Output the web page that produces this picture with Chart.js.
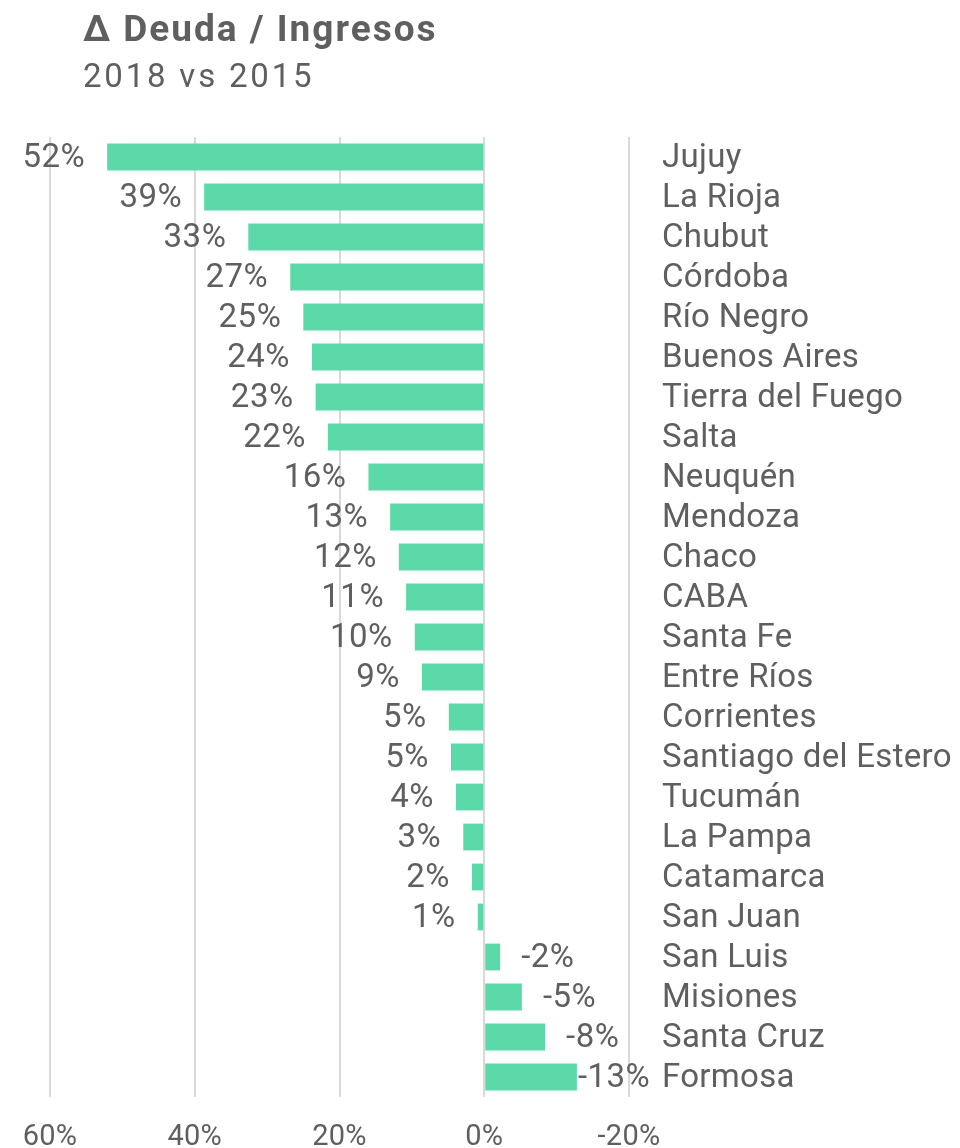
<!DOCTYPE html>
<html><head><meta charset="utf-8">
<script src="https://cdn.jsdelivr.net/npm/chart.js@4"></script>
<style>html,body{margin:0;padding:0;background:#fff}#wrap{width:960px;height:1148px}</style>
</head><body><div id="wrap"><canvas id="c" width="960" height="1148"></canvas></div>
<script>
const titleText = 'Δ Deuda / Ingresos';
const subtitleText = '2018 vs 2015';
const provinces = ['Jujuy','La Rioja','Chubut','Córdoba','Río Negro','Buenos Aires','Tierra del Fuego','Salta','Neuquén','Mendoza','Chaco','CABA','Santa Fe','Entre Ríos','Corrientes','Santiago del Estero','Tucumán','La Pampa','Catamarca','San Juan','San Luis','Misiones','Santa Cruz','Formosa'];
const values = [52.1,38.7,32.6,26.8,25.0,23.8,23.3,21.6,16.0,13.0,11.8,10.8,9.6,8.6,4.9,4.6,3.9,2.9,1.7,0.9,-2.2,-5.2,-8.4,-12.8];
const valueLabels = ['52%','39%','33%','27%','25%','24%','23%','22%','16%','13%','12%','11%','10%','9%','5%','5%','4%','3%','2%','1%','-2%','-5%','-8%','-13%'];
const tickValues = [60,40,20,0,-20];

const TEXT = '#5f5f5f';
const FONT = 'Roboto, "Noto Sans", sans-serif';

const spacingPlugin = {
  id: 'spacing',
  beforeDraw(chart) {
    try { chart.ctx.letterSpacing = '0.3px'; } catch(e) {}
  },
  afterDraw(chart) {
    try { chart.ctx.letterSpacing = '0px'; } catch(e) {}
  }
};

const titlePlugin = {
  id: 'titles',
  afterDraw(chart) {
    const ctx = chart.ctx;
    ctx.save();
    ctx.fillStyle = TEXT;
    ctx.textAlign = 'left';
    ctx.textBaseline = 'alphabetic';
    try { ctx.letterSpacing = '2px'; } catch(e) {}
    ctx.font = 'bold 37px ' + FONT;
    ctx.fillText(titleText, 83, 41);
    try { ctx.letterSpacing = '2.8px'; } catch(e) {}
    ctx.font = '33px ' + FONT;
    ctx.fillText(subtitleText, 83, 87);
    try { ctx.letterSpacing = '0px'; } catch(e) {}
    ctx.restore();
  }
};

const valueLabelPlugin = {
  id: 'valueLabels',
  afterDatasetsDraw(chart) {
    const ctx = chart.ctx;
    const meta = chart.getDatasetMeta(0);
    const limit = chart.chartArea.right + 19;
    ctx.save();
    ctx.fillStyle = TEXT;
    try { ctx.letterSpacing = '0.5px'; } catch(e) {}
    ctx.font = '33px ' + FONT;
    ctx.textBaseline = 'middle';
    meta.data.forEach((bar, i) => {
      const txt = valueLabels[i];
      const w = ctx.measureText(txt).width;
      if (values[i] >= 0) {
        ctx.textAlign = 'right';
        ctx.fillText(txt, bar.x - 22, bar.y + 2);
      } else {
        ctx.textAlign = 'left';
        let x = bar.x + 21;
        if (x + w > limit) x = Math.max(bar.x + 1, limit - w);
        ctx.fillText(txt, x, bar.y + 2);
      }
    });
    try { ctx.letterSpacing = '0.3px'; } catch(e) {}
    ctx.restore();
  }
};

new Chart(document.getElementById('c'), {
  type: 'bar',
  data: {
    labels: provinces,
    datasets: [{
      data: values,
      backgroundColor: '#5cd9a8',
      borderWidth: 0,
      barPercentage: 0.67,
      categoryPercentage: 1.0
    }]
  },
  options: {
    indexAxis: 'y',
    responsive: false,
    animation: false,
    layout: { padding: { left: 50, top: 137, right: 0, bottom: 0 } },
    plugins: { legend: { display: false }, tooltip: { enabled: false } },
    scales: {
      x: {
        type: 'linear',
        reverse: true,
        min: -20,
        max: 60,
        afterBuildTicks(scale) { scale.ticks = tickValues.map(v => ({ value: v })); },
        afterFit(scale) { scale.height = 51; scale.paddingLeft = 0; scale.paddingRight = 0; },
        grid: { color: '#d9d9d9', lineWidth: 2, drawTicks: false },
        border: { display: false },
        ticks: {
          padding: 23,
          color: TEXT,
          font: { family: FONT, size: 29 },
          callback: v => v + '%',
          maxRotation: 0
        }
      },
      y: {
        position: 'right',
        afterFit(scale) { scale.width = 331; scale.paddingTop = 0; scale.paddingBottom = 0; },
        grid: { display: false, drawTicks: false },
        border: { display: false },
        ticks: {
          crossAlign: 'near',
          padding: 33,
          labelOffset: 2,
          color: TEXT,
          font: { family: FONT, size: 33 },
          autoSkip: false
        }
      }
    }
  },
  plugins: [spacingPlugin, titlePlugin, valueLabelPlugin]
});
</script>
</body></html>
